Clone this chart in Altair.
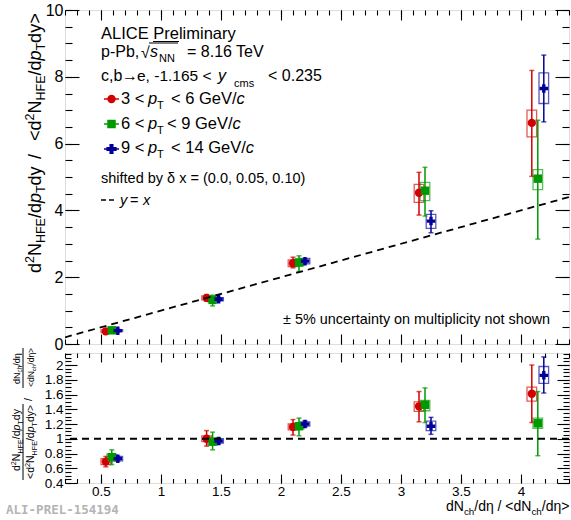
import altair as alt
import pandas as pd

FONT = "Liberation Sans"
RED, GREEN, BLUE = "#d20000", "#009900", "#000099"

# ---------------- data ----------------
SERIES = ["3 < pT < 6 GeV/c", "6 < pT < 9 GeV/c", "9 < pT < 14 GeV/c"]
COLORS = [RED, GREEN, BLUE]
SHAPES = ["circle", "square", "cross"]
SIZES = [70, 72, 105]
X_SHIFT = [0.0, 0.05, 0.10]
X_BASE = [0.54, 1.38, 2.10, 3.15, 4.09]

# top panel: self-normalised yield (one list per series)
TOP_Y = [[0.38, 1.38, 2.42, 4.53, 6.62],
         [0.41, 1.32, 2.44, 4.59, 4.95],
         [0.40, 1.34, 2.48, 3.68, 7.65]]
TOP_STAT_LO = [[0.32, 1.28, 2.28, 3.86, 5.02],
               [0.34, 1.14, 2.17, 3.83, 3.14],
               [0.36, 1.29, 2.42, 3.33, 6.65]]
TOP_STAT_HI = [[0.44, 1.48, 2.60, 5.14, 8.19],
               [0.48, 1.46, 2.64, 5.29, 6.70],
               [0.44, 1.39, 2.54, 3.99, 8.65]]
TOP_SYS_LO = [[0.34, 1.32, 2.32, 4.24, 6.20],
              [0.37, 1.26, 2.34, 4.29, 4.62],
              [0.37, 1.29, 2.40, 3.46, 7.20]]
TOP_SYS_HI = [[0.42, 1.44, 2.52, 4.78, 7.00],
              [0.45, 1.38, 2.54, 4.84, 5.22],
              [0.43, 1.39, 2.56, 3.88, 8.12]]

# bottom panel: ratio to multiplicity
BOT_Y = [[0.69, 1.00, 1.16, 1.44, 1.61],
         [0.75, 0.96, 1.17, 1.46, 1.21],
         [0.73, 0.97, 1.20, 1.17, 1.86]]
BOT_STAT_LO = [[0.62, 0.90, 1.05, 1.23, 1.22],
               [0.65, 0.85, 1.04, 1.22, 0.77],
               [0.70, 0.93, 1.16, 1.06, 1.62]]
BOT_STAT_HI = [[0.76, 1.11, 1.26, 1.64, 2.00],
               [0.85, 1.09, 1.28, 1.69, 1.64],
               [0.76, 1.01, 1.24, 1.29, 2.11]]
BOT_SYS_LO = [[0.65, 0.96, 1.12, 1.37, 1.51],
              [0.71, 0.92, 1.13, 1.38, 1.14],
              [0.70, 0.94, 1.17, 1.11, 1.75]]
BOT_SYS_HI = [[0.73, 1.04, 1.20, 1.50, 1.70],
              [0.79, 1.00, 1.21, 1.52, 1.28],
              [0.76, 1.00, 1.23, 1.24, 1.98]]

X_DOMAIN = [0.2, 4.4]
TOP_Y_DOMAIN = [0, 10]
BOT_Y_DOMAIN = [0.4, 2.163]
REF_LINE_X = [0.2, 4.4]      # y = x reference
REF_RATIO = [1.0]            # ratio = 1 reference

X_MAJOR = [0.5, 1.0, 1.5, 2.0, 2.5, 3.0, 3.5, 4.0]
X_MINOR = [round(0.2 + 0.1 * i, 2) for i in range(43)]
TOP_Y_MAJOR = [0, 2, 4, 6, 8, 10]
TOP_Y_MINOR = [0.5 * i for i in range(21)]
BOT_Y_MAJOR = [0.4, 0.6, 0.8, 1.0, 1.2, 1.4, 1.6, 1.8, 2.0]
BOT_Y_MINOR = [round(0.4 + 0.05 * i, 2) for i in range(36)]

# ---------------- layout ----------------
W = 504
H_TOP, H_BOT = 334, 130
OX = 64
OY_TOP, OY_BOT = 9, 352
HW = 0.04


def make_df(y, lo, hi, slo, shi):
    rows = []
    for si, s in enumerate(SERIES):
        for i, xb in enumerate(X_BASE):
            x = xb + X_SHIFT[si]
            rows.append(dict(series=s, x=x, xl=x - HW, xr=x + HW, y=y[si][i],
                             lo=lo[si][i], hi=hi[si][i], slo=slo[si][i], shi=shi[si][i]))
    return pd.DataFrame(rows)


top_df = make_df(TOP_Y, TOP_STAT_LO, TOP_STAT_HI, TOP_SYS_LO, TOP_SYS_HI)
bot_df = make_df(BOT_Y, BOT_STAT_LO, BOT_STAT_HI, BOT_SYS_LO, BOT_SYS_HI)

ONE = pd.DataFrame({"k": [0]})

EM = {' ': .278, '!': .278, '(': .333, ')': .333, ',': .278, '-': .333, '.': .278, '/': .278,
      '<': .584, '=': .584, '>': .584, '%': .889, '±': .584,
      'A': .667, 'C': .722, 'E': .667, 'F': .611, 'G': .778, 'H': .722, 'I': .278, 'L': .556,
      'N': .722, 'P': .667, 'T': .611, 'V': .667,
      'a': .556, 'b': .556, 'c': .5, 'd': .556, 'e': .556, 'h': .556, 'i': .222, 'l': .222,
      'm': .833, 'n': .556, 'p': .556, 'r': .333, 's': .5, 't': .278, 'u': .556, 'y': .5,
      'η': .556}


def tw(s, size):
    return sum(EM.get(ch, .556) for ch in s) * size


def txt(x, y, s, size, ox, oy, italic=False, angle=0, color="black", font=FONT, bold=False):
    kw = dict(text=s, fontSize=size, font=font, color=color, align="left", baseline="alphabetic")
    if italic:
        kw["fontStyle"] = "italic"
    if bold:
        kw["fontWeight"] = "bold"
    if angle:
        kw["angle"] = angle
    return alt.Chart(ONE).mark_text(**kw).encode(x=alt.value(x - ox), y=alt.value(y - oy))


def seq(x, y, parts, ox, oy, angle=0):
    """parts: (text, size, italic, rise). Laid out along the baseline."""
    out = []
    pos = 0.0
    for s, size, it, rise in parts:
        stripped = s.lstrip(" ")
        pos += (len(s) - len(stripped)) * EM[' '] * size
        if angle == 270:
            px, py = x - rise, y - pos
        else:
            px, py = x + pos, y - rise
        out.append(txt(px, py, stripped, size, ox, oy, italic=it, angle=angle))
        pos += tw(stripped, size)
    return out


def hrule(x1, x2, y, ox, oy, width=1.0, dash=None, color="black"):
    kw = dict(color=color, strokeWidth=width)
    if dash:
        kw["strokeDash"] = dash
    return alt.Chart(ONE).mark_rule(**kw).encode(
        x=alt.value(x1 - ox), x2=alt.value(x2 - ox), y=alt.value(y - oy))


def vrule(x, y1, y2, ox, oy, width=1.0):
    return alt.Chart(ONE).mark_rule(color="black", strokeWidth=width).encode(
        x=alt.value(x - ox), y=alt.value(y1 - oy), y2=alt.value(y2 - oy))


def tick_axis(orient, offset, values, size):
    return alt.Axis(orient=orient, offset=offset, values=values, tickSize=size, tickWidth=1.1,
                    tickColor="black", labels=False, domain=False, grid=False, title=None)


def label_axis(orient, values, size, fmt, pad=2):
    return alt.Axis(orient=orient, values=values, ticks=False, domain=False, grid=False,
                    title=None, labelFont=FONT, labelFontSize=size, labelColor="black",
                    labelPadding=pad, format=fmt, labelOverlap=False)


color = alt.Color("series:N", scale=alt.Scale(domain=SERIES, range=COLORS), legend=None)
shape = alt.Shape("series:N", scale=alt.Scale(domain=SERIES, range=SHAPES), legend=None)
size = alt.Size("series:N", scale=alt.Scale(domain=SERIES, range=SIZES), legend=None)


def data_layers(df, H, ydom, ymaj, ymin, ymaj_len, ymin_len, xmaj_len, xmin_len,
                ylab_size, ylab_fmt, xlabels):
    xs = alt.Scale(domain=X_DOMAIN, nice=False, zero=False)
    ys = alt.Scale(domain=ydom, nice=False, zero=False)
    base = alt.Chart(df)
    boxes = base.mark_rect(filled=False, strokeWidth=1.3, strokeOpacity=0.65).encode(
        x=alt.X("xl:Q", scale=xs, axis=tick_axis("top", -H, X_MAJOR, xmaj_len)),
        x2="xr:Q",
        y=alt.Y("slo:Q", scale=ys, axis=label_axis("left", ymaj, ylab_size, ylab_fmt)),
        y2="shi:Q", color=color)
    stat = base.mark_rule(strokeWidth=1.5).encode(
        x=alt.X("x:Q", scale=xs, axis=tick_axis("top", -H, X_MINOR, xmin_len)),
        y=alt.Y("lo:Q", scale=ys, axis=tick_axis("right", -W, ymaj, ymaj_len)),
        y2="hi:Q", color=color)
    cap_lo = base.mark_tick(orient="horizontal", size=5, thickness=1.5).encode(
        x=alt.X("x:Q", scale=xs, axis=tick_axis("bottom", -H, X_MAJOR, xmaj_len)),
        y=alt.Y("lo:Q", scale=ys, axis=tick_axis("right", -W, ymin, ymin_len)),
        color=color)
    cap_hi = base.mark_tick(orient="horizontal", size=5, thickness=1.5).encode(
        x=alt.X("x:Q", scale=xs, axis=tick_axis("bottom", -H, X_MINOR, xmin_len)),
        y=alt.Y("hi:Q", scale=ys, axis=tick_axis("left", -W, ymaj, ymaj_len)),
        color=color)
    if xlabels:
        xax = label_axis("bottom", X_MAJOR, 13.5, ".1~f", pad=1)
    else:
        xax = None
    pts = base.mark_point(filled=True, opacity=1).encode(
        x=alt.X("x:Q", scale=xs, axis=xax),
        y=alt.Y("y:Q", scale=ys, axis=tick_axis("left", -W, ymin, ymin_len)),
        color=color, shape=shape, size=size)
    return [boxes, stat, cap_lo, cap_hi, pts], xs, ys


# ---------------- top panel ----------------
top_layers, xs, ys = data_layers(top_df, H_TOP, TOP_Y_DOMAIN, TOP_Y_MAJOR, TOP_Y_MINOR,
                                 14, 7, 10, 5, 16, "d", False)
line_df = pd.DataFrame({"x": REF_LINE_X, "y": REF_LINE_X})
ref_line = alt.Chart(line_df).mark_line(color="black", strokeWidth=1.8, strokeDash=[7, 5], clip=True).encode(
    x=alt.X("x:Q", scale=xs, axis=None), y=alt.Y("y:Q", scale=ys, axis=None))

ox, oy = OX, OY_TOP
anchor = alt.Chart(ONE).mark_rect(opacity=0).encode(
    x=alt.value(0 - ox), x2=alt.value(3 - ox), y=alt.value(0 - oy), y2=alt.value(3 - oy))

ann = [anchor]
ann.append(txt(100, 38, "ALICE Preliminary", 16.5, ox, oy))
ann.append(hrule(152, 178, 40.5, ox, oy, width=1))
ann.append(txt(100, 56, "p-Pb,", 16, ox, oy))
ann.append(txt(140, 57, "√", 16, ox, oy))
ann.append(hrule(148, 177, 42, ox, oy, width=1))
ann.append(txt(149, 56, "s", 16, ox, oy, italic=True))
ann.append(txt(158, 61, "NN", 11, ox, oy))
ann.append(txt(186, 56, "= 8.16 TeV", 16, ox, oy))
ann.append(txt(100, 80, "c,b", 16, ox, oy))
ann.append(txt(121, 80, "→", 16, ox, oy))
ann.append(txt(136, 80, "e, -1.165 <", 15.5, ox, oy))
ann.append(txt(217, 80, "y", 16, ox, oy, italic=True))
ann.append(txt(233, 86, "cms", 11, ox, oy))
ann.append(txt(267, 80, "< 0.235", 16, ox, oy))

LS = 16.5
legend_rows = [
    (98, 103, RED, "circle", 70, "3 <", "< 6 ", 170),
    (123, 128, GREEN, "square", 72, "6 <", "< 9 ", 166),
    (148, 152, BLUE, "cross", 105, "9 <", "< 14 ", 170),
]
for my, base_y, col, shp, sz, first, mid, mx in legend_rows:
    ann.append(hrule(103, 118, my, ox, oy, width=1.5, color=col))
    ann.append(alt.Chart(ONE).mark_point(filled=True, opacity=1, shape=shp, size=sz, color=col).encode(
        x=alt.value(110.5 - ox), y=alt.value(my - oy)))
    ann.append(txt(120, base_y, first, LS, ox, oy))
    ann.append(txt(147, base_y, "p", LS, ox, oy, italic=True))
    ann.append(txt(156, base_y + 5, "T", 11, ox, oy))
    ann += seq(mx, base_y, [(mid, LS, False, 0), ("GeV/", LS, False, 0), ("c", LS, True, 0)], ox, oy)

ann.append(txt(100, 182, "shifted by δ x = (0.0, 0.05, 0.10)", 14.5, ox, oy))
ann.append(hrule(100, 116, 199, ox, oy, width=1.5, dash=[5, 3]))
ann.append(txt(119, 204, "y", 14.5, ox, oy, italic=True))
ann.append(txt(129, 204, "=", 14.5, ox, oy))
ann.append(txt(142, 204, "x", 14.5, ox, oy, italic=True))
ann.append(txt(282, 323, "± 5% uncertainty on multiplicity not shown", 14.4, ox, oy))

# rotated y title
half = [("d", 18, False, 0), ("2", 12.5, False, 7), ("N", 18, False, 0), ("HFE", 12.5, False, -4),
        ("/d", 18, False, 0), ("p", 18, True, 0), ("T", 12.5, False, -4), ("dy", 18, False, 0)]
ann += seq(40, 272, half, ox, oy, angle=270)
ann += seq(40, 158, [("/", 18, False, 0)], ox, oy, angle=270)
ann += seq(40, 140, [("<", 18, False, 0)] + half + [(">", 18, False, 0)], ox, oy, angle=270)

top = alt.layer(*(top_layers + [ref_line] + ann)).resolve_axis(
    x="independent", y="independent").properties(width=W, height=H_TOP)

# ---------------- bottom panel ----------------
bot_layers, xs2, ys2 = data_layers(bot_df, H_BOT, BOT_Y_DOMAIN, BOT_Y_MAJOR, BOT_Y_MINOR,
                                   12, 6, 9, 4.5, 13.5, ".1~f", True)
ref_df = pd.DataFrame({"r": REF_RATIO})
ref_rule = alt.Chart(ref_df).mark_rule(color="black", strokeWidth=1.8, strokeDash=[7, 5]).encode(
    y=alt.Y("r:Q", scale=ys2, axis=None))

ox, oy = OX, OY_BOT
bann = []
# x title
xt = [("d", 14, False, 0), ("N", 14, False, 0), ("ch", 9.8, False, -4), ("/d", 14, False, 0),
      ("η", 14, False, 0), (" / <d", 14, False, 0), ("N", 14, False, 0), ("ch", 9.8, False, -4),
      ("/d", 14, False, 0), ("η", 14, False, 0), (">", 14, False, 0)]
bann += seq(445, 510, xt, ox, oy)
bann.append(txt(5, 513, "ALI-PREL-154194", 12.5, ox, oy, color="#b4b4b4",
                font="DejaVu Sans Mono", bold=True))
# rotated fraction y title
num = [("d", 10.5, False, 0), ("2", 7.2, False, 4), ("N", 10.5, False, 0), ("HFE", 7.2, False, -2.5),
       ("/d", 10.5, False, 0), ("p", 10.5, True, 0), ("T", 7.2, False, -2.5), ("dy", 10.5, False, 0)]
bann += seq(19, 470, num, ox, oy, angle=270)
bann += seq(33, 478, [("<", 10.5, False, 0)] + num + [(">", 10.5, False, 0)], ox, oy, angle=270)
bann.append(vrule(22, 403, 479, ox, oy))
bann += seq(31, 400, [("/", 10.5, False, 0)], ox, oy, angle=270)
up = [("d", 9, False, 0), ("N", 9, False, 0), ("ch", 6.5, False, -2), ("/d", 9, False, 0),
      ("η", 9, False, 0)]
bann += seq(19, 383, up, ox, oy, angle=270)
bann += seq(33, 386, [("<", 8.5, False, 0)] + [(a, s * 8.5 / 9, i, r) for a, s, i, r in up] +
            [(">", 8.5, False, 0)], ox, oy, angle=270)
bann.append(vrule(22, 347, 387, ox, oy))

bottom = alt.layer(*(bot_layers + [ref_rule] + bann)).resolve_axis(
    x="independent", y="independent").properties(width=W, height=H_BOT)

chart = alt.vconcat(top, bottom, spacing=9, bounds="flush").properties(
    padding={"left": 0, "top": 0, "right": 0, "bottom": 0}
).configure_view(stroke="black", strokeWidth=1.5).configure(font=FONT)

chart.save("out.html", embed_options={"renderer": "svg", "actions": False})
